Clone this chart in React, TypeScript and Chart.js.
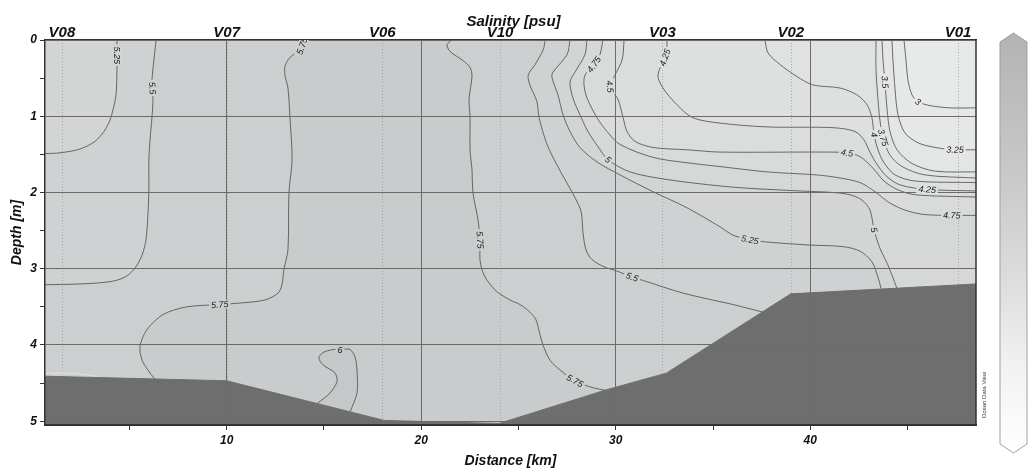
import React, { useEffect, useRef } from 'react';
import { Chart, registerables } from 'chart.js';

Chart.register(...registerables);

type Pt = [number, number];

// ---------- axes / stations ----------
const distanceRange: Pt = [0.66, 48.52];
const depthRange: Pt = [0, 5.05];
const distanceTicks = [5, 10, 15, 20, 25, 30, 35, 40, 45];
const depthTicks = [0, 0.5, 1, 1.5, 2, 2.5, 3, 3.5, 4, 4.5, 5];
const stationNames = ['V08', 'V07', 'V06', 'V10', 'V03', 'V02', 'V01'];
const stationKm = [1.53, 10.0, 18.0, 24.05, 32.4, 39.0, 47.6];

// ---------- bottom (bathymetry), [km, depth m] ----------
const bathymetry: Pt[] = [[0.66, 4.41], [10.0, 4.47], [18.1, 4.99], [24.0, 5.03], [29.5, 4.59], [32.6, 4.37], [39.0, 3.33], [48.52, 3.2]];
const bedRim: Pt[] = [[0.66, 4.37], [2.2, 4.375], [3.4, 4.415]];

// ---------- salinity isolines, [km, depth m] ----------
const sal600: Pt[] = [[14.64, 4.77], [15.31, 4.63], [15.67, 4.48], [15.57, 4.37], [14.95, 4.26], [14.74, 4.17], [14.95, 4.10], [15.46, 4.06], [15.82, 4.06], [16.34, 4.06], [16.60, 4.16], [16.70, 4.33], [16.70, 4.63], [16.34, 4.88]];
const sal575West: Pt[] = [[13.95, 0], [13.87, 0.08], [13.77, 0.13], [13.25, 0.23], [13.0, 0.34], [13.0, 0.47], [13.15, 0.63], [13.25, 1.01], [13.36, 1.57], [13.2, 2.0], [13.15, 2.75], [12.94, 3.01], [12.84, 3.21], [12.64, 3.32], [11.97, 3.41], [10.68, 3.45], [9.65, 3.47], [7.96, 3.5], [6.73, 3.6], [5.9, 3.8], [5.54, 4.02], [5.65, 4.2], [5.95, 4.33], [6.31, 4.45]];
const sal575East: Pt[] = [[21.58, 0], [21.33, 0.06], [21.48, 0.15], [22.15, 0.27], [22.51, 0.36], [22.61, 0.47], [22.46, 0.78], [22.51, 1.01], [22.51, 1.44], [22.61, 1.7], [22.66, 2.0], [22.92, 2.36], [23.02, 2.62], [23.02, 2.88], [23.12, 3.01], [23.38, 3.15], [23.89, 3.3], [24.56, 3.41], [25.08, 3.47], [25.59, 3.57], [25.9, 3.67], [26.11, 3.87], [26.26, 4.0], [26.62, 4.2], [27.24, 4.35], [27.9, 4.47], [28.68, 4.55], [29.55, 4.6]];
const sal550West: Pt[] = [[6.37, 0], [6.26, 0.26], [6.16, 0.52], [6.18, 0.63], [6.21, 0.78], [6.16, 1.01], [6.06, 1.31], [6.0, 1.57], [6.0, 1.96], [5.95, 2.29], [5.85, 2.62], [5.65, 2.82], [5.29, 2.99], [4.77, 3.11], [4.0, 3.17], [2.46, 3.2], [0.66, 3.21]];
const sal525West: Pt[] = [[4.36, 0], [4.36, 0.2], [4.36, 0.39], [4.31, 0.72], [4.16, 0.91], [4.0, 1.05], [3.69, 1.2], [3.23, 1.33], [2.46, 1.43], [1.43, 1.48], [0.66, 1.49]];
const sal550East: Pt[] = [[26.37, 0], [26.27, 0.13], [25.86, 0.32], [25.5, 0.46], [25.59, 0.59], [25.95, 0.81], [26.06, 1.02], [26.47, 1.37], [26.98, 1.64], [27.39, 1.83], [27.91, 2.07], [28.22, 2.25], [28.32, 2.53], [28.47, 2.75], [28.78, 2.88], [29.45, 2.98], [30.06, 3.03], [30.84, 3.11], [31.61, 3.17], [33.46, 3.32], [36.03, 3.47], [37.57, 3.57]];
const sal525East: Pt[] = [[27.65, 0], [27.5, 0.19], [26.78, 0.42], [26.72, 0.49], [27.03, 0.72], [27.29, 0.98], [27.65, 1.2], [28.16, 1.41], [29.04, 1.6], [30.22, 1.77], [31.92, 1.99], [33.66, 2.2], [35.36, 2.45], [36.03, 2.56], [36.9, 2.62], [37.78, 2.65], [40.0, 2.69], [41.68, 2.71], [42.56, 2.77], [43.17, 2.91], [43.48, 3.11], [43.64, 3.26]];
const sal500: Pt[] = [[28.52, 0], [28.42, 0.19], [27.91, 0.42], [27.65, 0.55], [27.8, 0.76], [28.16, 0.98], [28.57, 1.2], [29.09, 1.4], [29.6, 1.57], [30.73, 1.73], [32.63, 1.83], [36.03, 1.93], [39.47, 1.98], [41.17, 2.0], [42.04, 2.03], [42.66, 2.1], [43.07, 2.23], [43.28, 2.49], [43.58, 2.73], [43.99, 2.95], [44.46, 3.26]];
const sal475: Pt[] = [[29.34, 0], [29.19, 0.19], [28.88, 0.32], [28.42, 0.46], [28.37, 0.59], [28.52, 0.76], [29.04, 1.02], [29.55, 1.2], [30.22, 1.37], [31.92, 1.54], [33.66, 1.61], [35.36, 1.66], [37.78, 1.73], [40.35, 1.77], [41.53, 1.81], [42.56, 1.87], [43.33, 1.99], [44.1, 2.14], [44.97, 2.24], [45.9, 2.29], [47.28, 2.3], [48.52, 2.3]];
const sal450: Pt[] = [[30.43, 0], [30.33, 0.26], [29.96, 0.46], [29.7, 0.61], [30.12, 0.78], [30.38, 1.02], [30.58, 1.2], [30.99, 1.33], [31.92, 1.41], [33.66, 1.44], [35.36, 1.47], [40.86, 1.47], [41.89, 1.48], [42.56, 1.53], [43.22, 1.68], [43.79, 1.85], [44.46, 1.96], [45.39, 2.03], [48.52, 2.06]];
const sal425: Pt[] = [[32.63, 0], [32.63, 0.15], [32.53, 0.23], [32.17, 0.46], [32.43, 0.63], [33.15, 0.85], [33.97, 1.02], [35.36, 1.09], [37.78, 1.14], [41.17, 1.15], [42.3, 1.2], [42.76, 1.31], [43.07, 1.47], [43.38, 1.61], [43.89, 1.78], [44.61, 1.9], [46.01, 1.96], [48.52, 1.98]];
const sal400: Pt[] = [[37.67, 0], [37.83, 0.17], [38.44, 0.32], [39.32, 0.48], [40.14, 0.59], [41.53, 0.63], [42.4, 0.72], [42.92, 0.85], [43.17, 1.02], [43.28, 1.24], [43.48, 1.44], [43.79, 1.61], [44.36, 1.77], [45.39, 1.85], [48.52, 1.87]];
const sal375: Pt[] = [[43.38, 0], [43.38, 0.39], [43.48, 0.78], [43.58, 1.05], [43.74, 1.28], [44.1, 1.51], [44.72, 1.66], [45.9, 1.77], [48.52, 1.81]];
const sal350: Pt[] = [[43.69, 0], [43.74, 0.26], [43.84, 0.55], [43.95, 0.91], [44.1, 1.2], [44.46, 1.44], [45.23, 1.62], [46.41, 1.72], [48.52, 1.73]];
const sal325: Pt[] = [[44.2, 0], [44.25, 0.26], [44.36, 0.65], [44.51, 0.98], [44.87, 1.22], [45.64, 1.36], [46.93, 1.43], [47.44, 1.44], [48.52, 1.44]];
const sal300: Pt[] = [[44.82, 0], [44.92, 0.26], [45.02, 0.52], [45.23, 0.72], [45.54, 0.81], [46.15, 0.86], [47.18, 0.89], [48.52, 0.89]];

type Side = 'left' | 'right' | 'leftBed' | 'rightBed' | 'closed';
type Contour = { level: number; points: Pt[]; labels: number[]; side: Side };

const contours: Contour[] = [
  { level: 6, points: sal600, labels: [8], side: 'closed' },
  { level: 5.75, points: sal575West, labels: [1, 16], side: 'leftBed' },
  { level: 5.75, points: sal575East, labels: [12, 25], side: 'rightBed' },
  { level: 5.5, points: sal550West, labels: [3], side: 'left' },
  { level: 5.5, points: sal550East, labels: [17], side: 'rightBed' },
  { level: 5.25, points: sal525West, labels: [1], side: 'left' },
  { level: 5.25, points: sal525East, labels: [14], side: 'rightBed' },
  { level: 5, points: sal500, labels: [8, 17], side: 'rightBed' },
  { level: 4.75, points: sal475, labels: [2, 20], side: 'right' },
  { level: 4.5, points: sal450, labels: [3, 12], side: 'right' },
  { level: 4.25, points: sal425, labels: [2, 16], side: 'right' },
  { level: 4, points: sal400, labels: [9], side: 'right' },
  { level: 3.75, points: sal375, labels: [4], side: 'right' },
  { level: 3.5, points: sal350, labels: [2], side: 'right' },
  { level: 3.25, points: sal325, labels: [7], side: 'right' },
  { level: 3, points: sal300, labels: [4], side: 'right' },
];

// grey shading of the salinity field (inside level 6 = darker, below the other levels = lighter)
const baseShade = '#c9cccc';
const shadeLevels = [6, 5.75, 5.5, 5.25, 5, 4.75, 4.5, 4.25, 4, 3.75, 3.5, 3.25, 3];
const shadeColors = ['#c5c8c8', '#cccfcf', '#cfd2d2', '#d3d5d5', '#d6d8d8', '#d9dbdb', '#dbdddd', '#dee0e0', '#e0e2e2', '#e2e4e4', '#e4e5e5', '#e6e7e7', '#e8e9e9'];

const FONT = "'Liberation Sans', Arial, sans-serif";
const shadeOf = (lvl: number) => shadeColors[Math.max(0, shadeLevels.indexOf(lvl))];

function tracePolygon(ctx: CanvasRenderingContext2D, c: Contour, xs: any, ys: any) {
  const toPx = (p: Pt): Pt => [xs.getPixelForValue(p[0]), ys.getPixelForValue(p[1])];
  const last = c.points[c.points.length - 1];
  let extra: Pt[] = [];
  if (c.side === 'right') extra = [[xs.max, 0]];
  if (c.side === 'left') extra = [[xs.min, 0]];
  if (c.side === 'rightBed') extra = [[last[0], ys.max], [xs.max, ys.max], [xs.max, 0]];
  if (c.side === 'leftBed') extra = [[last[0], ys.max], [xs.min, ys.max], [xs.min, 0]];
  ctx.beginPath();
  [...c.points, ...extra].forEach((p, i) => {
    const [a, b] = toPx(p);
    if (i === 0) ctx.moveTo(a, b);
    else ctx.lineTo(a, b);
  });
  ctx.closePath();
}

const shadingPlugin = {
  id: 'shading',
  beforeDatasetsDraw(chart: any) {
    const { ctx, chartArea: ca } = chart;
    const xs = chart.scales.x;
    const ys = chart.scales.y;
    ctx.save();
    ctx.beginPath();
    ctx.rect(ca.left, ca.top, ca.right - ca.left, ca.bottom - ca.top);
    ctx.clip();
    ctx.fillStyle = baseShade;
    ctx.fillRect(ca.left, ca.top, ca.right - ca.left, ca.bottom - ca.top);
    shadeLevels.forEach((lvl, k) => {
      ctx.fillStyle = shadeColors[k];
      contours.filter((c) => c.level === lvl).forEach((c) => {
        tracePolygon(ctx, c, xs, ys);
        ctx.fill();
      });
    });
    const xs2 = chart.scales.x2;
    ctx.setLineDash([1, 2]);
    ctx.strokeStyle = '#a6a9a9';
    ctx.lineWidth = 1;
    stationKm.forEach((k) => {
      const x = Math.round(xs2.getPixelForValue(k)) + 0.5;
      ctx.beginPath();
      ctx.moveTo(x, ca.top);
      ctx.lineTo(x, ca.bottom);
      ctx.stroke();
    });
    ctx.restore();
  },
};

const decorPlugin = {
  id: 'decor',
  afterDraw(chart: any) {
    const { ctx, chartArea: ca } = chart;
    const xs = chart.scales.x;
    const ys = chart.scales.y;
    // contour labels
    ctx.save();
    ctx.beginPath();
    ctx.rect(ca.left, ca.top, ca.right - ca.left, ca.bottom - ca.top);
    ctx.clip();
    ctx.font = `italic 9px ${FONT}`;
    ctx.textAlign = 'center';
    ctx.textBaseline = 'middle';
    contours.forEach((c) =>
      c.labels.forEach((i) => {
        const p = c.points[i];
        const a = c.points[Math.max(0, i - 1)];
        const b = c.points[Math.min(c.points.length - 1, i + 1)];
        const px = xs.getPixelForValue(p[0]);
        const py = ys.getPixelForValue(p[1]);
        let ang = Math.atan2(ys.getPixelForValue(b[1]) - ys.getPixelForValue(a[1]), xs.getPixelForValue(b[0]) - xs.getPixelForValue(a[0]));
        while (ang > Math.PI / 2) ang -= Math.PI;
        while (ang <= -Math.PI / 2) ang += Math.PI;
        const text = String(c.level);
        const w = ctx.measureText(text).width;
        ctx.save();
        ctx.translate(px, py);
        ctx.rotate(ang);
        ctx.fillStyle = shadeOf(c.level);
        ctx.fillRect(-w / 2 - 2, -4.5, w + 4, 9);
        ctx.fillStyle = '#1c1c1c';
        ctx.fillText(text, 0, 0.5);
        ctx.restore();
      })
    );
    ctx.restore();

    // right frame edge
    ctx.save();
    ctx.strokeStyle = '#333';
    ctx.lineWidth = 1.5;
    ctx.beginPath();
    ctx.moveTo(ca.right, ca.top);
    ctx.lineTo(ca.right, ca.bottom);
    ctx.stroke();

    // title
    ctx.fillStyle = '#111';
    ctx.font = `italic bold 15px ${FONT}`;
    ctx.textAlign = 'center';
    ctx.textBaseline = 'alphabetic';
    ctx.fillText('Salinity [psu]', (ca.left + ca.right) / 2 + 3, ca.top - 14);

    // colour bar
    const x0 = ca.right + 24;
    const x1 = ca.right + 51;
    const xm = (x0 + x1) / 2;
    const yTop = ca.top - 7;
    const yBot = ca.bottom + 28;
    const g = ctx.createLinearGradient(0, yTop, 0, yBot);
    g.addColorStop(0, '#b3b3b3');
    g.addColorStop(0.3, '#c6c6c6');
    g.addColorStop(0.55, '#d9d9d9');
    g.addColorStop(0.8, '#f2f2f2');
    g.addColorStop(1, '#ffffff');
    ctx.beginPath();
    ctx.moveTo(x0, yTop + 9);
    ctx.lineTo(xm, yTop);
    ctx.lineTo(x1, yTop + 9);
    ctx.lineTo(x1, yBot - 9);
    ctx.lineTo(xm, yBot);
    ctx.lineTo(x0, yBot - 9);
    ctx.closePath();
    ctx.fillStyle = g;
    ctx.fill();
    ctx.strokeStyle = '#a0a0a0';
    ctx.lineWidth = 1;
    ctx.stroke();

    // ODV mark
    ctx.translate(ca.right + 8, ca.bottom - 30);
    ctx.rotate(-Math.PI / 2);
    ctx.font = `6px ${FONT}`;
    ctx.fillStyle = '#333';
    ctx.textAlign = 'center';
    ctx.textBaseline = 'middle';
    ctx.fillText('Ocean Data View', 0, 0);
    ctx.restore();
  },
};

const toXY = (pts: Pt[]) => pts.map(([x, y]) => ({ x, y }));
const axisFont = { family: FONT, size: 12, style: 'italic' as const, weight: 'bold' as const };

export default function App() {
  const ref = useRef<HTMLCanvasElement>(null);
  useEffect(() => {
    document.body.style.margin = '0';
    Chart.defaults.font.family = FONT;
    const canvas = ref.current;
    if (!canvas) return;
    const chart = new Chart(canvas, {
      type: 'line',
      data: {
        datasets: [
          { label: 'bottom', data: toXY(bathymetry), fill: { value: depthRange[1] }, backgroundColor: '#6e6e6e', borderColor: '#6e6e6e', borderWidth: 1, pointRadius: 0, tension: 0, order: 0 } as any,
          { label: 'rim', data: toXY(bedRim), borderColor: '#e2e2e2', borderWidth: 1, pointRadius: 0, tension: 0.3, fill: false, order: 1 } as any,
          ...contours.map((c) => ({ label: String(c.level), data: toXY(c.points), borderColor: '#4a4a4a', borderWidth: 0.8, pointRadius: 0, tension: 0.3, fill: false, order: 2 })),
        ],
      },
      options: {
        animation: false,
        responsive: false,
        layout: { padding: { left: 0, right: 54, top: 0, bottom: 0 } },
        plugins: { legend: { display: false }, tooltip: { enabled: false } },
        events: [],
        scales: {
          x: {
            type: 'linear',
            position: 'bottom',
            min: distanceRange[0],
            max: distanceRange[1],
            afterBuildTicks: (s: any) => { s.ticks = distanceTicks.map((v) => ({ value: v })); },
            afterFit: (s: any) => { s.height = 47; },
            ticks: { callback: (v: any) => (Number(v) % 10 === 0 ? String(v) : ''), font: axisFont, color: '#111', padding: 3, maxRotation: 0, autoSkip: false },
            grid: { color: (c: any) => (c.tick && c.tick.value % 10 === 0 ? '#6b6b6b' : 'rgba(0,0,0,0)'), lineWidth: 1, tickColor: '#333', tickLength: 5, z: 1 },
            border: { color: '#333', width: 2, z: 1 },
            title: { display: true, text: 'Distance [km]', font: { ...axisFont, size: 14 }, color: '#111', padding: { top: 0, bottom: 2 } },
          },
          x2: {
            type: 'linear',
            position: 'top',
            min: distanceRange[0],
            max: distanceRange[1],
            afterBuildTicks: (s: any) => { s.ticks = stationKm.map((v) => ({ value: v })); },
            afterFit: (s: any) => { s.height = 40; },
            ticks: { callback: (_v: any, i: number) => stationNames[i], font: { ...axisFont, size: 15 }, color: '#111', padding: -2, maxRotation: 0, autoSkip: false },
            grid: { display: false, drawOnChartArea: false, drawTicks: false },
            border: { display: true, color: '#333', width: 1.5, z: 1 },
          },
          y: {
            type: 'linear',
            reverse: true,
            min: depthRange[0],
            max: depthRange[1],
            afterBuildTicks: (s: any) => { s.ticks = depthTicks.map((v) => ({ value: v })); },
            afterFit: (s: any) => { s.width = 45; },
            ticks: { callback: (v: any) => (Number.isInteger(Number(v)) ? String(v) : ''), font: axisFont, color: '#111', padding: 3, autoSkip: false },
            grid: { color: (c: any) => (c.tick && Number.isInteger(c.tick.value) ? '#6b6b6b' : 'rgba(0,0,0,0)'), lineWidth: 1, tickColor: '#333', tickLength: 5, z: 1 },
            border: { color: '#333', width: 1.5, z: 1 },
            title: { display: true, text: 'Depth [m]', font: { ...axisFont, size: 14 }, color: '#111', padding: { top: 9, bottom: 0 } },
          },
        },
      } as any,
      plugins: [shadingPlugin, decorPlugin],
    });
    return () => chart.destroy();
  }, []);
  return (
    <div style={{ width: 1030, height: 472 }}>
      <canvas ref={ref} width={1030} height={472} style={{ display: 'block' }} />
    </div>
  );
}
